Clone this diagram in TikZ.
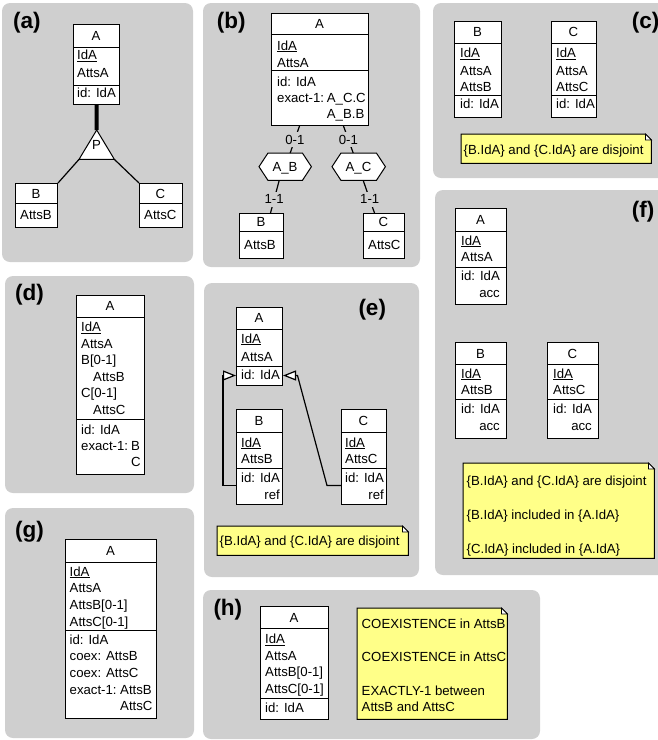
\documentclass[tikz,border=0pt]{standalone}
\usepackage{fontspec}
\setmainfont{Liberation Sans}
\usetikzlibrary{arrows.meta}
\definecolor{panelgray}{RGB}{207,207,207}
\definecolor{noteyellow}{RGB}{255,255,136}
\newcommand\efont{\fontsize{13.2}{15}\selectfont}
\newcommand\lfont{\fontsize{22.5}{26}\selectfont\bfseries}
\begin{document}
\begin{tikzpicture}[x=1pt,y=-1pt,
  panel/.style={fill=panelgray, rounded corners=8pt},
  ebox/.style 2 args={draw, fill=white, line width=1pt, inner sep=0pt, anchor=north west, minimum width=#1pt, minimum height=#2pt},
  div/.style={line width=1pt},
  tx/.style={inner sep=0pt, anchor=base west, font=\efont},
  txr/.style={inner sep=0pt, anchor=base east, font=\efont},
  ttl/.style={inner sep=0pt, anchor=base, font=\efont},
  lbl/.style={inner sep=0pt, anchor=base west, font=\lfont},
  conn/.style={line width=1.2pt},
  clab/.style={fill=panelgray, inner xsep=1pt, inner ysep=3pt, font=\efont},
  area/.style 2 args={inner sep=0pt, anchor=north west, minimum width=#1pt, minimum height=#2pt},
  notebody/.style={fill=noteyellow, draw, line width=1pt},
  fold/.style={fill=white, draw, line width=0.8pt},
  opentip/.style={-{Triangle[length=13pt,width=10pt,fill=white]}}
]
\useasboundingbox (0,0) rectangle (658,740);
\clip (0,0) rectangle (658,740);

% ---------------- panels
\fill[panel] (2,3) rectangle (193,262);
\fill[panel] (203,3) rectangle (420,267);
\fill[panel] (433,3) rectangle (680,178);
\fill[panel] (5,276) rectangle (194,493);
\fill[panel] (204,283) rectangle (419,577);
\fill[panel] (435,190) rectangle (680,575);
\fill[panel] (5,508) rectangle (194,738);
\fill[panel] (203,590) rectangle (540,739);

\node[lbl] (la) at (13,28.7) {(a)};
\node[lbl] (lb) at (216.7,28.7) {(b)};
\node[lbl] (lc) at (631.7,28.5) {(c)};
\node[lbl] (ld) at (15,300.5) {(d)};
\node[lbl] (le) at (358.3,315.5) {(e)};
\node[lbl] (lf) at (631.7,217) {(f)};
\node[lbl] (lg) at (15,537) {(g)};
\node[lbl] (lh) at (213.3,615.5) {(h)};

% ================= (a)
\node[ebox={46}{80}] (aA) at (73,24) {};
\draw[div] (73,47) -- (119,47);
\draw[div] (73,85) -- (119,85);
\node[ttl] (aAt) at (96,40) {A};
\node[tx] (aA1) at (77,59.5) {\underline{IdA}};
\node[tx] (aA2) at (77,77) {AttsA};
\node[tx] (aA3) at (77,97) {id: IdA};

\node[area={35}{29}] (aP) at (79,130) {};
\draw[line width=1pt, fill=white] (aP.north) -- (aP.south east) -- (aP.south west) -- cycle;
\node[ttl] (aPt) at (96.5,149) {P};
\draw[line width=4pt] (aA.south) -- (aP.north);

\node[ebox={42}{44}] (aB) at (15,183) {};
\draw[div] (15,203) -- (57,203);
\node[ttl] (aBt) at (36,198) {B};
\node[tx] (aB1) at (20,219.5) {AttsB};

\node[ebox={43}{44}] (aC) at (139,183) {};
\draw[div] (139,203) -- (182,203);
\node[ttl] (aCt) at (160.5,198) {C};
\node[tx] (aC1) at (144,219.5) {AttsC};

\draw[conn] (aP.south west) -- (aB.north east);
\draw[conn] (aP.south east) -- (aC.north west);

% ================= (b)
\node[ebox={97}{112}] (bA) at (271,13) {};
\draw[div] (271,34) -- (368,34);
\draw[div] (271,70) -- (368,70);
\node[ttl] (bAt) at (319.5,28.5) {A};
\node[tx] (bA1) at (277,50) {\underline{IdA}};
\node[tx] (bA2) at (277,67) {AttsA};
\node[tx] (bA3) at (277,86) {id: IdA};
\node[tx] (bA4) at (277,102) {exact-1:};
\node[tx] (bA5) at (326.7,102) {A\_C.C};
\node[tx] (bA6) at (326.7,118) {A\_B.B};

\node[area={52}{27}] (bAB) at (259,153) {};
\draw[line width=1pt, fill=white] (bAB.west) -- ([xshift=9pt]bAB.north west) -- ([xshift=-9pt]bAB.north east) -- (bAB.east) -- ([xshift=-9pt]bAB.south east) -- ([xshift=9pt]bAB.south west) -- cycle;
\node[ttl] (bABt) at (285,171.2) {A\_B};

\node[area={53}{27}] (bAC) at (332,153) {};
\draw[line width=1pt, fill=white] (bAC.west) -- ([xshift=9pt]bAC.north west) -- ([xshift=-9pt]bAC.north east) -- (bAC.east) -- ([xshift=-9pt]bAC.south east) -- ([xshift=9pt]bAC.south west) -- cycle;
\node[ttl] (bACt) at (358.5,171.2) {A\_C};

\node[ebox={44}{45}] (bB) at (239,213) {};
\draw[div] (239,231) -- (283,231);
\node[ttl] (bBt) at (261,226.8) {B};
\node[tx] (bB1) at (244,249.5) {AttsB};

\node[ebox={41}{45}] (bC) at (363,213) {};
\draw[div] (363,231) -- (404,231);
\node[ttl] (bCt) at (383.5,226.8) {C};
\node[tx] (bC1) at (368,249.5) {AttsC};

\draw[conn] ([xshift=-20.5pt]bA.south) -- node[clab] (bl1) {0-1} ([xshift=5pt]bAB.north);
\draw[conn] ([xshift=23.5pt]bA.south) -- node[clab] (bl2) {0-1} ([xshift=-5.5pt]bAC.north);
\draw[conn] ([xshift=-6pt]bAB.south) -- node[clab,pos=0.58] (bl3) {1-1} ([xshift=9pt]bB.north);
\draw[conn] ([xshift=4.5pt]bAC.south) -- node[clab,pos=0.58] (bl4) {1-1} ([xshift=-9.5pt]bC.north);

% ================= (c)
\node[ebox={47}{96}] (cB) at (454,21) {};
\draw[div] (454,43) -- (501,43);
\draw[div] (454,95) -- (501,95);
\node[ttl] (cBt) at (477.5,36.8) {B};
\node[tx] (cB1) at (460,57.5) {\underline{IdA}};
\node[tx] (cB2) at (460,75) {AttsA};
\node[tx] (cB3) at (460,91) {AttsB};
\node[tx] (cB4) at (460,108.5) {id: IdA};

\node[ebox={45}{96}] (cC) at (551,21) {};
\draw[div] (551,43) -- (596,43);
\draw[div] (551,95) -- (596,95);
\node[ttl] (cCt) at (573.5,36.8) {C};
\node[tx] (cC1) at (556,57.5) {\underline{IdA}};
\node[tx] (cC2) at (556,75) {AttsA};
\node[tx] (cC3) at (556,91) {AttsC};
\node[tx] (cC4) at (556,108.5) {id: IdA};

\node[area={190}{29}] (cN) at (461,134) {};
\draw[notebody] (cN.north west) -- ([xshift=-6pt]cN.north east) -- ([yshift=-6pt]cN.north east) -- (cN.south east) -- (cN.south west) -- cycle;
\draw[fold] ([xshift=-6pt]cN.north east) -- ([xshift=-6pt,yshift=-6pt]cN.north east) -- ([yshift=-6pt]cN.north east) -- cycle;
\node[tx] (cN1) at (463.5,154.5) {\{B.IdA\} and \{C.IdA\} are disjoint};

% ================= (d)
\node[ebox={68}{179}] (dA) at (76,295) {};
\draw[div] (76,317) -- (144,317);
\draw[div] (76,419) -- (144,419);
\node[ttl] (dAt) at (110,310.8) {A};
\node[tx] (dA1) at (81,331.5) {\underline{IdA}};
\node[tx] (dA2) at (81,348) {AttsA};
\node[tx] (dA3) at (81,364.5) {B[0-1]};
\node[tx] (dA4) at (93,381) {AttsB};
\node[tx] (dA5) at (81,397.5) {C[0-1]};
\node[tx] (dA6) at (93,414) {AttsC};
\node[tx] (dA7) at (81,434) {id: IdA};
\node[tx] (dA8) at (81,450) {exact-1:};
\node[tx] (dA9) at (131,450) {B};
\node[tx] (dA10) at (131,466.5) {C};

% ================= (e)
\node[ebox={46}{78}] (eA) at (236,307) {};
\draw[div] (236,329) -- (282,329);
\draw[div] (236,366) -- (282,366);
\node[ttl] (eAt) at (259,322.8) {A};
\node[tx] (eA1) at (241,343) {\underline{IdA}};
\node[tx] (eA2) at (241,361) {AttsA};
\node[tx] (eA3) at (241,379.5) {id: IdA};

\node[ebox={46}{95}] (eB) at (236,409) {};
\draw[div] (236,432) -- (282,432);
\draw[div] (236,468) -- (282,468);
\node[ttl] (eBt) at (259,425.5) {B};
\node[tx] (eB1) at (241,447) {\underline{IdA}};
\node[tx] (eB2) at (241,463.5) {AttsB};
\node[tx] (eB3) at (241,482.5) {id: IdA};
\node[txr] (eB4) at ([yshift=-16.5pt]eB3.base east) {ref};

\node[ebox={45}{95}] (eC) at (341,409) {};
\draw[div] (341,432) -- (386,432);
\draw[div] (341,468) -- (386,468);
\node[ttl] (eCt) at (363.5,425.5) {C};
\node[tx] (eC1) at (345,447) {\underline{IdA}};
\node[tx] (eC2) at (345,463.5) {AttsC};
\node[tx] (eC3) at (345,482.5) {id: IdA};
\node[txr] (eC4) at ([yshift=-16.5pt]eC3.base east) {ref};

\draw[conn, opentip] ([yshift=-28.5pt]eB.west) -- ++(-13pt,0) |- ([yshift=-29pt]eA.west);
\draw[conn, opentip] ([yshift=-28.5pt]eC.west) -- ++(-14pt,0) -- ([xshift=14.5pt,yshift=-29pt]eA.east) -- ([yshift=-29pt]eA.east);

\node[area={191}{29}] (eN) at (217,526) {};
\draw[notebody] (eN.north west) -- ([xshift=-6pt]eN.north east) -- ([yshift=-6pt]eN.north east) -- (eN.south east) -- (eN.south west) -- cycle;
\draw[fold] ([xshift=-6pt]eN.north east) -- ([xshift=-6pt,yshift=-6pt]eN.north east) -- ([yshift=-6pt]eN.north east) -- cycle;
\node[tx] (eN1) at (219.5,545) {\{B.IdA\} and \{C.IdA\} are disjoint};

% ================= (f)
\node[ebox={51}{96}] (fA) at (455,208) {};
\draw[div] (455,231) -- (506,231);
\draw[div] (455,267) -- (506,267);
\node[ttl] (fAt) at (480.5,224) {A};
\node[tx] (fA1) at (461,245) {\underline{IdA}};
\node[tx] (fA2) at (461,261) {AttsA};
\node[tx] (fA3) at (461,280.5) {id: IdA};
\node[txr] (fA4) at ([yshift=-16.5pt]fA3.base east) {acc};

\node[ebox={51}{96}] (fB) at (455,342) {};
\draw[div] (455,364.5) -- (506,364.5);
\draw[div] (455,399) -- (506,399);
\node[ttl] (fBt) at (480.5,358) {B};
\node[tx] (fB1) at (461,378) {\underline{IdA}};
\node[tx] (fB2) at (461,394) {AttsB};
\node[tx] (fB3) at (461,413.5) {id: IdA};
\node[txr] (fB4) at ([yshift=-16.5pt]fB3.base east) {acc};

\node[ebox={51}{96}] (fC) at (547,342) {};
\draw[div] (547,364.5) -- (598,364.5);
\draw[div] (547,399) -- (598,399);
\node[ttl] (fCt) at (572.5,358) {C};
\node[tx] (fC1) at (553,378) {\underline{IdA}};
\node[tx] (fC2) at (553,394) {AttsC};
\node[tx] (fC3) at (553,413.5) {id: IdA};
\node[txr] (fC4) at ([yshift=-16.5pt]fC3.base east) {acc};

\node[area={191}{95}] (fN) at (463,463) {};
\draw[notebody] (fN.north west) -- ([xshift=-6pt]fN.north east) -- ([yshift=-6pt]fN.north east) -- (fN.south east) -- (fN.south west) -- cycle;
\draw[fold] ([xshift=-6pt]fN.north east) -- ([xshift=-6pt,yshift=-6pt]fN.north east) -- ([yshift=-6pt]fN.north east) -- cycle;
\node[tx] (fN1) at (466.5,485) {\{B.IdA\} and \{C.IdA\} are disjoint};
\node[tx] (fN2) at (466.5,519) {\{B.IdA\} included in \{A.IdA\}};
\node[tx] (fN3) at (466.5,553) {\{C.IdA\} included in \{A.IdA\}};

% ================= (g)
\node[ebox={91}{179}] (gA) at (65,539) {};
\draw[div] (65,562) -- (156,562);
\draw[div] (65,630) -- (156,630);
\node[ttl] (gAt) at (110.5,555.3) {A};
\node[tx] (gA1) at (69.5,576) {\underline{IdA}};
\node[tx] (gA2) at (69.5,592.7) {AttsA};
\node[tx] (gA3) at (69.5,609.3) {AttsB[0-1]};
\node[tx] (gA4) at (69.5,626) {AttsC[0-1]};
\node[tx] (gA5) at (69.5,644) {id: IdA};
\node[tx] (gA6) at (69.5,660.8) {coex: AttsB};
\node[tx] (gA7) at (69.5,677.5) {coex: AttsC};
\node[tx] (gA8) at (69.5,694) {exact-1:};
\node[tx] (gA9) at (120,694) {AttsB};
\node[tx] (gA10) at (120,710.5) {AttsC};

% ================= (h)
\node[ebox={68}{113}] (hA) at (260,606) {};
\draw[div] (260,628) -- (328,628);
\draw[div] (260,698) -- (328,698);
\node[ttl] (hAt) at (294,622.3) {A};
\node[tx] (hA1) at (265,643.5) {\underline{IdA}};
\node[tx] (hA2) at (265,660) {AttsA};
\node[tx] (hA3) at (265,676.7) {AttsB[0-1]};
\node[tx] (hA4) at (265,693.3) {AttsC[0-1]};
\node[tx] (hA5) at (265,712.5) {id: IdA};

\node[area={150}{111}] (hN) at (357,608) {};
\draw[notebody] (hN.north west) -- ([xshift=-6pt]hN.north east) -- ([yshift=-6pt]hN.north east) -- (hN.south east) -- (hN.south west) -- cycle;
\draw[fold] ([xshift=-6pt]hN.north east) -- ([xshift=-6pt,yshift=-6pt]hN.north east) -- ([yshift=-6pt]hN.north east) -- cycle;
\node[tx] (hN1) at (361.5,628) {COEXISTENCE in AttsB};
\node[tx] (hN2) at (361.5,661.5) {COEXISTENCE in AttsC};
\node[tx] (hN3) at (361.5,695) {EXACTLY-1 between};
\node[tx] (hN4) at (361.5,711) {AttsB and AttsC};
\end{tikzpicture}
\end{document}
